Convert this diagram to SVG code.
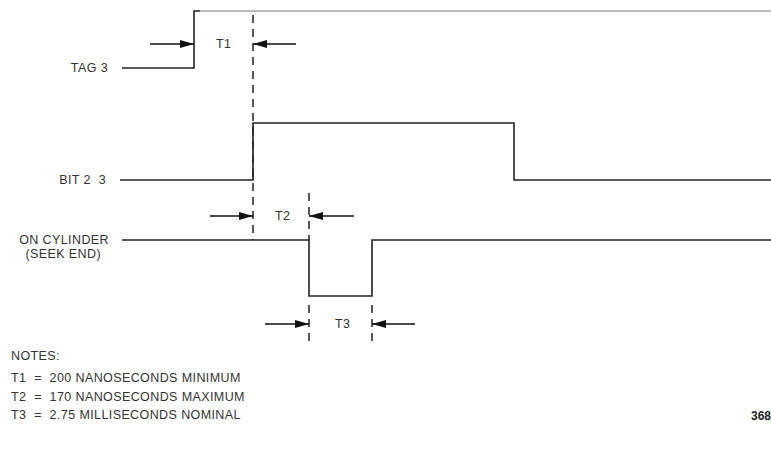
<svg xmlns="http://www.w3.org/2000/svg" width="771" height="463" viewBox="0 0 771 463">
<defs>
<marker id="ah" viewBox="0 0 14 8" refX="14" refY="4" markerWidth="14" markerHeight="8" markerUnits="userSpaceOnUse" orient="auto">
<path d="M0,0 L14,4 L0,8 Z" fill="#111"/>
</marker>
</defs>
<style>
.sig{fill:none;stroke:#222;stroke-width:1.6}
.dash{fill:none;stroke:#222;stroke-width:1.5;stroke-dasharray:8,6}
.arr{fill:none;stroke:#111;stroke-width:1.4;marker-end:url(#ah)}
text{font-family:"Liberation Sans",Arial,sans-serif;font-size:12.5px;letter-spacing:0.4px;fill:#333;white-space:pre}
</style>
<rect width="771" height="463" fill="#fff"/>
<g id="tag3">
<text x="108" y="72" text-anchor="end">TAG 3</text>
<path class="sig" d="M122,68 H194 V11 H200"/>
<path d="M200,11 H771" fill="none" stroke="#777" stroke-width="1.2"/>
</g>
<g id="bit23">
<text x="106" y="184" text-anchor="end">BIT 2  3</text>
<path class="sig" d="M120,180 H253 V123 H514 V180 H771"/>
</g>
<g id="oncyl">
<text x="109" y="244" text-anchor="end">ON CYLINDER</text>
<text x="101" y="258" text-anchor="end">(SEEK END)</text>
<path class="sig" d="M122,240 H309 V296 H372 V240 H771"/>
</g>
<g id="connectors">
<path class="dash" d="M253,15 V240"/>
<path class="dash" d="M309,193 V240"/>
<path class="dash" d="M309,305 V346"/>
<path class="dash" d="M372,305 V346"/>
<line class="arr" x1="150" y1="44" x2="194" y2="44"/>
<line class="arr" x1="296" y1="44" x2="253" y2="44"/>
<line class="arr" x1="210" y1="216" x2="253" y2="216"/>
<line class="arr" x1="354" y1="216" x2="309" y2="216"/>
<line class="arr" x1="265" y1="324" x2="309" y2="324"/>
<line class="arr" x1="415" y1="324" x2="372" y2="324"/>
</g>
<g id="labels">
<text x="216" y="48">T1</text>
<text x="275" y="220">T2</text>
<text x="335" y="328">T3</text>
</g>
<g id="notes">
<text x="11" y="360">NOTES:</text>
<text x="11" y="382">T1  =  200 NANOSECONDS MINIMUM</text>
<text x="11" y="401">T2  =  170 NANOSECONDS MAXIMUM</text>
<text x="11" y="419">T3  =  2.75 MILLISECONDS NOMINAL</text>
<text x="751" y="420" style="font-weight:bold;font-size:12px;letter-spacing:0;fill:#222">368</text>
</g>
</svg>
